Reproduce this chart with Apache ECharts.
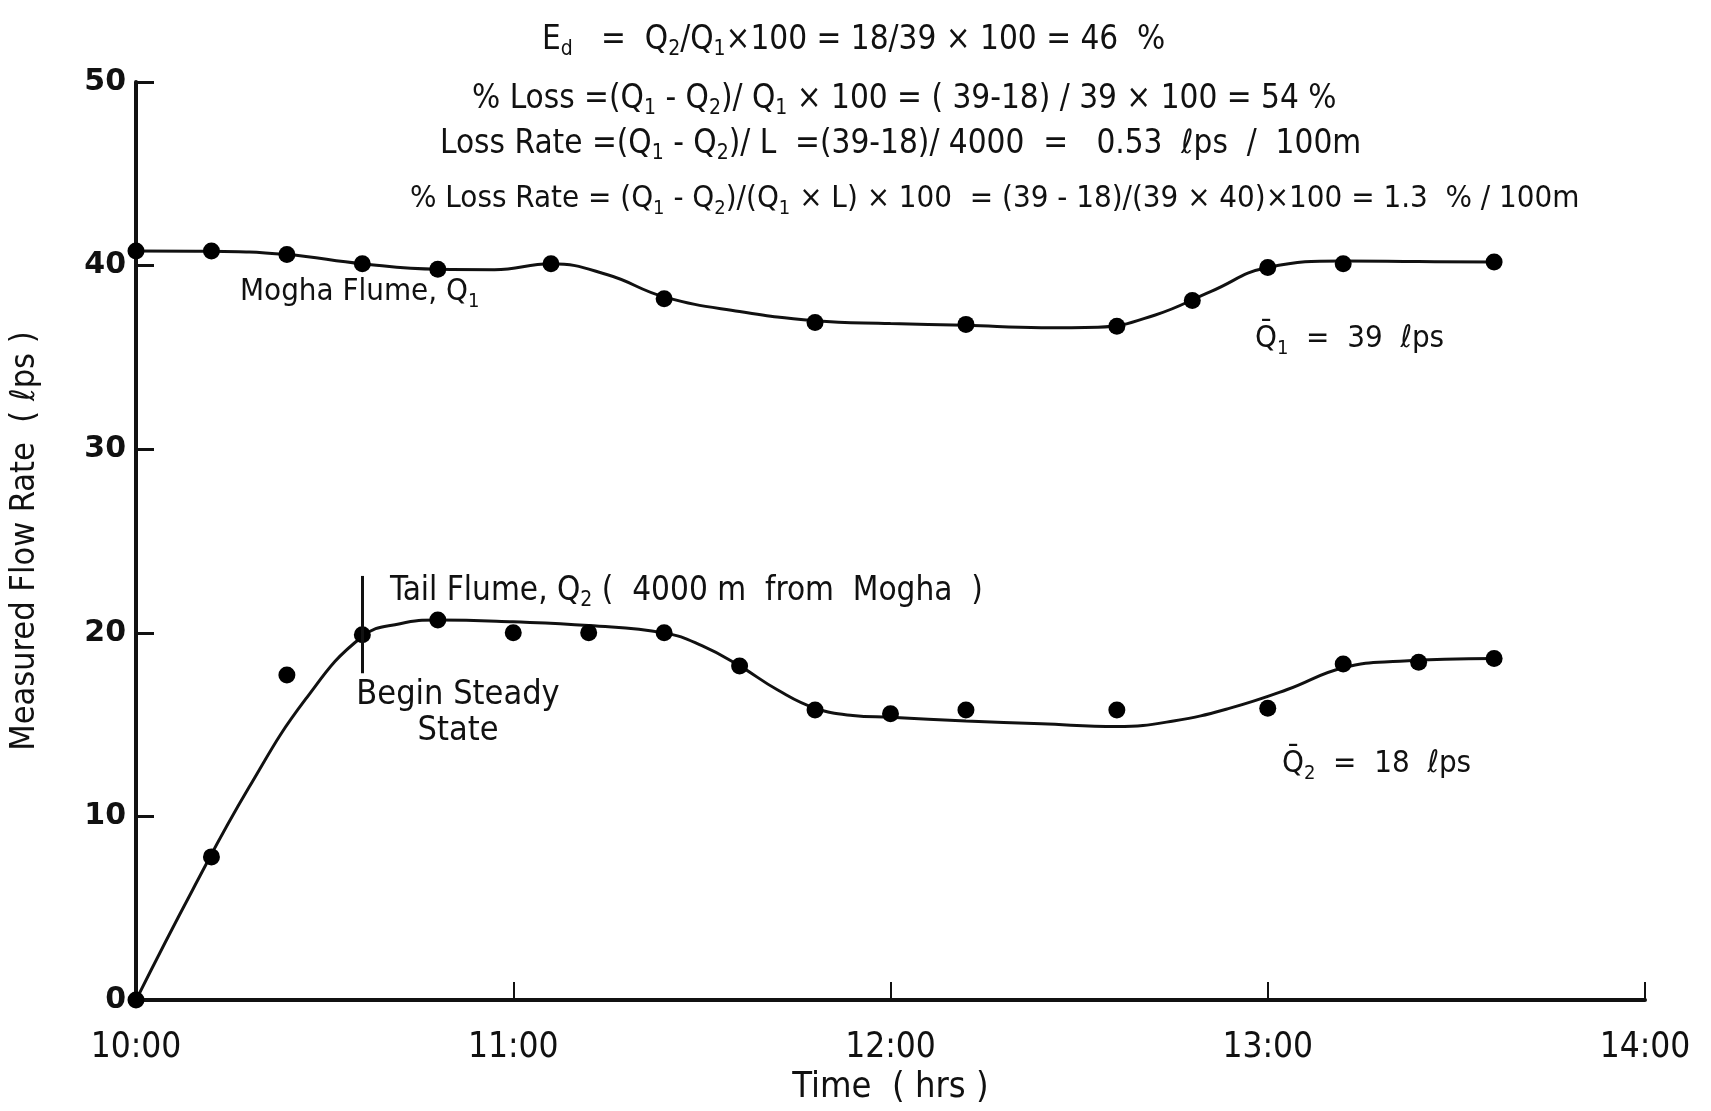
<!DOCTYPE html>
<html><head><meta charset="utf-8">
<script src="https://cdn.jsdelivr.net/npm/echarts@6/dist/echarts.min.js"></script>
<style>html,body{margin:0;padding:0;background:#fff;} #c{width:1711px;height:1111px;}</style>
</head><body><div id="c"></div>
<script>
// ---- data (hours after 10:00, flow rate in l/s) ----
const xTickLabels = ['10:00', '11:00', '12:00', '13:00', '14:00'];
const q1Times  = [0, 0.2, 0.4, 0.6, 0.8, 1.1, 1.4, 1.8, 2.2, 2.6, 2.8, 3.0, 3.2, 3.6];
const q1Values = [40.8, 40.8, 40.6, 40.1, 39.8, 40.1, 38.2, 36.9, 36.8, 36.7, 38.1, 39.9, 40.1, 40.2];
const q2Times  = [0, 0.2, 0.4, 0.6, 0.8, 1.0, 1.2, 1.4, 1.6, 1.8, 2.0, 2.2, 2.6, 3.0, 3.2, 3.4, 3.6];
const q2Values = [0, 7.8, 17.7, 19.9, 20.7, 20.0, 20.0, 20.0, 18.2, 15.8, 15.6, 15.8, 15.8, 15.9, 18.3, 18.4, 18.6];
// hand-fitted curves
const q1CurveT = [0, 0.2, 0.4, 0.6, 0.8, 0.95, 1.1, 1.25, 1.4, 1.6, 1.8, 2.0, 2.2, 2.4, 2.55, 2.7, 2.85, 3.0, 3.2, 3.4, 3.6];
const q1CurveV = [40.8, 40.78, 40.6, 40.1, 39.8, 39.78, 40.1, 39.5, 38.3, 37.5, 37.0, 36.85, 36.75, 36.62, 36.65, 37.3, 38.6, 39.9, 40.25, 40.22, 40.2];
const q2CurveT = [0, 0.15, 0.3, 0.45, 0.6, 0.7, 0.8, 1.0, 1.2, 1.4, 1.5, 1.6, 1.7, 1.8, 1.9, 2.0, 2.2, 2.4, 2.6, 2.75, 2.9, 3.05, 3.2, 3.35, 3.6];
const q2CurveV = [0, 6.0, 11.6, 16.4, 19.8, 20.5, 20.7, 20.6, 20.4, 20.0, 19.3, 18.2, 16.9, 15.9, 15.5, 15.4, 15.2, 15.05, 14.9, 15.2, 15.9, 16.9, 18.1, 18.45, 18.6];
const steadyT = 0.6;
const steadyRange = [17.8, 23.1];

const pairs = (t, v) => t.map((x, i) => [x, v[i]]);
const F = '"Liberation Sans Narrow","DejaVu Sans Condensed","Liberation Sans",sans-serif';
const mkRich = (fs, ss) => ({
  n: {fontSize: fs, fontFamily: F, lineHeight: 40, verticalAlign: 'middle', fill: '#111'},
  s: {fontSize: ss, fontFamily: F, lineHeight: 20, verticalAlign: 'bottom', fill: '#111'}
});
const rt = s => '{n|' + s.replace(/_(\w)/g, '}{s|$1}{n|') + '}';
const txt = (str, left, cy, fs) => ({
  type: 'text', left: left, top: cy - 20,
  style: {text: rt(str), rich: mkRich(fs || 31, Math.round((fs || 31) * 0.65)), fill: '#111'}
});

const chart = echarts.init(document.getElementById('c'));
chart.setOption({
  animation: false,
  backgroundColor: '#fff',
  grid: {left: 125, right: 66, top: 82, bottom: 106},
  xAxis: {
    type: 'value', min: 0, max: 4, interval: 1,
    name: 'Time  ( hrs )', nameLocation: 'middle', nameGap: 68,
    nameTextStyle: {fontFamily: F, fontSize: 36, color: '#111'},
    axisLine: {lineStyle: {color: '#111', width: 4}},
    axisTick: {inside: true, length: 18, lineStyle: {color: '#111', width: 2}},
    axisLabel: {formatter: v => xTickLabels[v], margin: 30, fontFamily: F, fontSize: 35, color: '#111'},
    splitLine: {show: false}
  },
  yAxis: {
    type: 'value', min: 0, max: 50, interval: 10,
    name: 'Measured Flow Rate  ( ℓps )', nameLocation: 'middle', nameGap: 94,
    nameTextStyle: {fontFamily: F, fontSize: 34, color: '#111'},
    axisLine: {lineStyle: {color: '#111', width: 4}},
    axisTick: {inside: true, length: 18, lineStyle: {color: '#111', width: 3}},
    axisLabel: {margin: 10, fontFamily: '"DejaVu Sans",sans-serif', fontWeight: 'bold', fontSize: 30, color: '#111'},
    splitLine: {show: false}
  },
  series: [
    {type: 'line', data: pairs(q1CurveT, q1CurveV), smooth: 0.45, showSymbol: false,
     lineStyle: {color: '#111', width: 3}, z: 2},
    {type: 'line', data: pairs(q2CurveT, q2CurveV), smooth: 0.45, showSymbol: false,
     lineStyle: {color: '#111', width: 3}, z: 2,
     markLine: {silent: true, symbol: ['none', 'none'], label: {show: false},
       lineStyle: {color: '#111', width: 3, type: 'solid'},
       data: [[{coord: [steadyT, steadyRange[0]]}, {coord: [steadyT, steadyRange[1]]}]]}},
    {type: 'scatter', data: pairs(q1Times, q1Values), symbolSize: 17, itemStyle: {color: '#000', opacity: 1}, z: 3},
    {type: 'scatter', data: pairs(q2Times, q2Values), symbolSize: 17, itemStyle: {color: '#000', opacity: 1}, z: 3}
  ],
  graphic: [
    txt('E_d   =  Q_2/Q_1×100 = 18/39 × 100 = 46  %', 542, 44, 33),
    txt('% Loss =(Q_1 - Q_2)/ Q_1 × 100 = ( 39-18) / 39 × 100 = 54 %', 472, 103, 33),
    txt('Loss Rate =(Q_1 - Q_2)/ L  =(39-18)/ 4000  =   0.53  ℓps  /  100m', 440, 148, 33),
    txt('% Loss Rate = (Q_1 - Q_2)/(Q_1 × L) × 100  = (39 - 18)/(39 × 40)×100 = 1.3  % / 100m', 410, 203, 31),
    txt('Mogha Flume, Q_1', 240, 296, 31),
    txt('Q\u0304_1  =  39  ℓps', 1255, 343, 31),
    txt('Tail Flume, Q_2 (  4000 m  from  Mogha  )', 390, 595, 33),
    txt('Q\u0304_2  =  18  ℓps', 1282, 768, 31),
    {type: 'text', x: 458, y: 677,
     style: {text: 'Begin Steady\nState', font: '34px ' + F, lineHeight: 36, align: 'center', fill: '#111'}}
  ]
});
</script>
</body></html>
